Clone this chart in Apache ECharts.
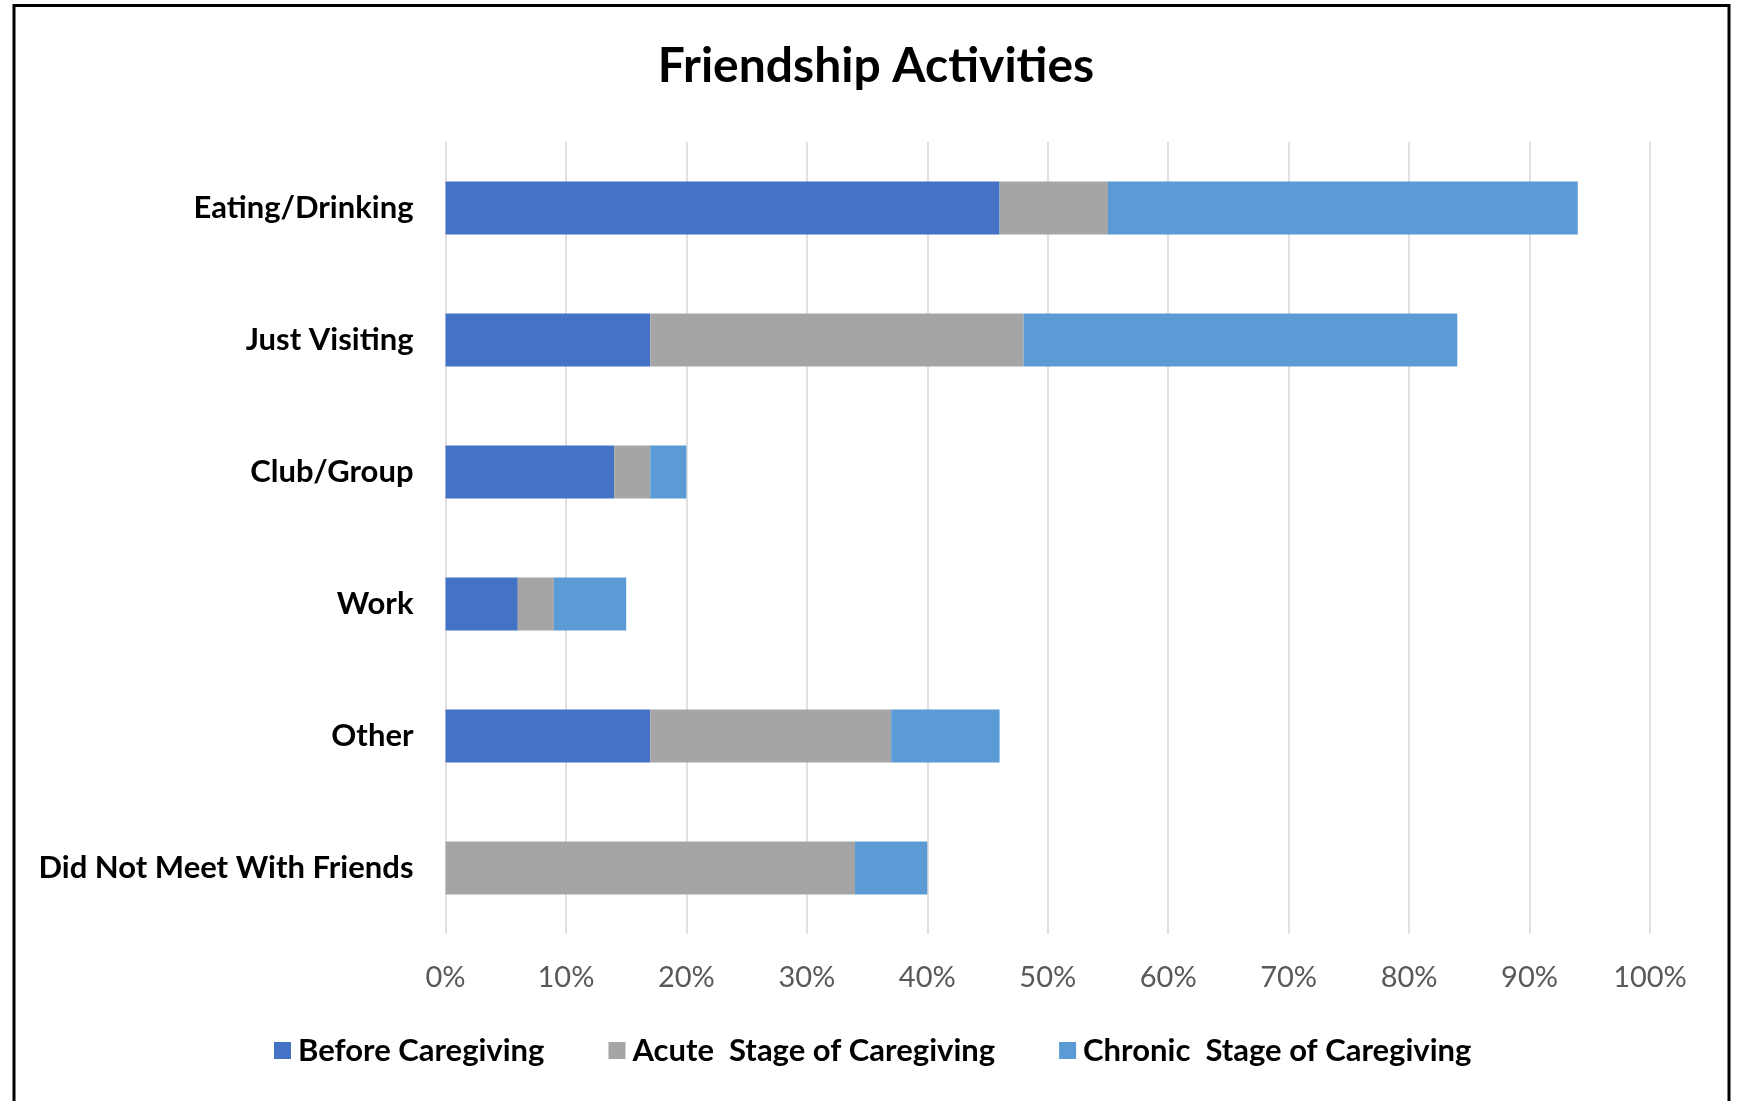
<!DOCTYPE html>
<html>
<head>
<meta charset="utf-8">
<script src="https://cdn.jsdelivr.net/npm/echarts@6/dist/echarts.min.js"></script>
<style>
  html, body { margin: 0; padding: 0; background: #ffffff; }
  #chart { width: 1742px; height: 1101px; }
</style>
</head>
<body>
<div id="chart"></div>
<script>
// Activities, listed top to bottom
const categories = [
  'Eating/Drinking',
  'Just Visiting',
  'Club/Group',
  'Work',
  'Other',
  'Did Not Meet With Friends'
];

// Share of respondents (%) in each caregiving stage
const beforeCaregiving = [46, 17, 14, 6, 17, 0];
const acuteStage       = [9, 31, 3, 3, 20, 34];
const chronicStage     = [39, 36, 3, 6, 9, 6];

const seriesNames = [
  'Before Caregiving',
  'Acute  Stage of Caregiving',
  'Chronic  Stage of Caregiving'
];
const seriesColors = ['#4472C4', '#A5A5A5', '#5B9BD5'];

const FONT = 'Lato, "Open Sans", sans-serif';

const chart = echarts.init(document.getElementById('chart'), null, { renderer: 'canvas' });

const dataSets = [beforeCaregiving, acuteStage, chronicStage];

chart.setOption({
  backgroundColor: '#ffffff',
  animation: false,
  graphic: [{
    type: 'rect',
    shape: { x: 14, y: 5.5, width: 1715, height: 1120 },
    style: { fill: 'none', stroke: '#000000', lineWidth: 3 },
    silent: true,
    z: 100
  }],
  title: {
    text: 'Friendship Activities',
    left: 871,
    textAlign: 'center',
    top: 38,
    textStyle: { fontFamily: FONT, fontWeight: 'bold', fontSize: 48, color: '#000000' }
  },
  legend: {
    left: 274,
    top: 1035,
    padding: 0,
    itemWidth: 17,
    itemHeight: 17,
    itemGap: 64,
    icon: 'rect',
    textStyle: { fontFamily: FONT, fontWeight: 'bold', fontSize: 31, color: '#000000', padding: [0, 0, 0, 2] },
    data: seriesNames
  },
  grid: {
    left: 445.5,
    right: 1742 - 1650,
    top: 142,
    bottom: 1101 - 934,
    containLabel: false
  },
  xAxis: {
    type: 'value',
    min: 0,
    max: 100,
    interval: 10,
    axisLine: { show: false },
    axisTick: { show: false },
    splitLine: { show: true, lineStyle: { color: '#D9D9D9', width: 1.5 } },
    axisLabel: {
      formatter: '{value}%',
      fontFamily: FONT,
      fontSize: 29,
      color: '#595959',
      margin: 29
    }
  },
  yAxis: {
    type: 'category',
    inverse: true,
    data: categories,
    axisLine: { show: false },
    axisTick: { show: false },
    splitLine: { show: false },
    axisLabel: {
      fontFamily: FONT,
      fontWeight: 'bold',
      fontSize: 31,
      color: '#000000',
      margin: 32
    }
  },
  series: dataSets.map((vals, i) => ({
    name: seriesNames[i],
    type: 'bar',
    stack: 'total',
    barWidth: 53,
    itemStyle: { color: seriesColors[i] },
    data: vals
  }))
});
</script>
</body>
</html>
